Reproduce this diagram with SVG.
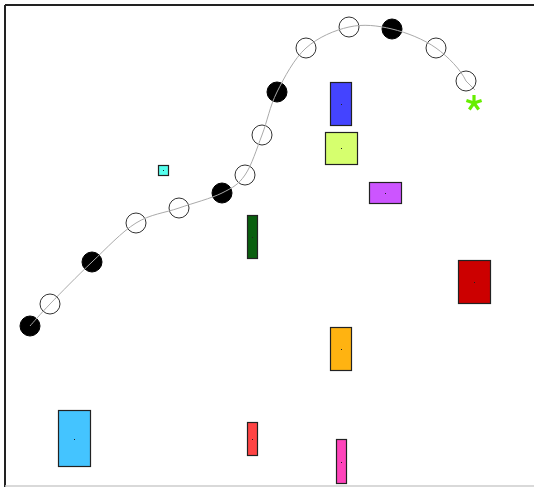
<svg xmlns="http://www.w3.org/2000/svg" width="534" height="487" viewBox="0 0 534 487">
<style>
.open{fill:none;stroke:#333;stroke-width:1}
.fill{fill:#000;stroke:#000;stroke-width:1}
.box{stroke:#222;stroke-width:1.2}
.dot{fill:#222}
.conn{fill:none;stroke:#aaa;stroke-width:1}
</style>
<rect x="0" y="0" width="534" height="487" fill="#fff"/>
<line x1="5" y1="5" x2="534" y2="5" stroke="#222" stroke-width="2"/>
<line x1="5" y1="5" x2="5" y2="487" stroke="#222" stroke-width="2"/>
<line x1="5" y1="486" x2="534" y2="486" stroke="#ccc" stroke-width="1.5"/>

<g id="n-cyan"><rect class="box" x="158.5" y="165.5" width="10" height="10" fill="#55ffee"/><rect class="dot" x="163" y="170" width="1" height="1"/></g>
<g id="n-green"><rect class="box" x="247.5" y="215.5" width="10" height="43" fill="#0a5f0f"/><rect class="dot" x="252" y="237" width="1" height="1"/></g>
<g id="n-blue"><rect class="box" x="330.5" y="82.5" width="21" height="43" fill="#4444ff"/><rect class="dot" x="341" y="104" width="1" height="1"/></g>
<g id="n-lime"><rect class="box" x="325.5" y="132.5" width="32" height="32" fill="#d6ff6e"/><rect class="dot" x="341" y="148" width="1" height="1" fill="#777"/></g>
<g id="n-purple"><rect class="box" x="369.5" y="182.5" width="32" height="21" fill="#cc55ff"/><rect class="dot" x="385" y="193" width="1" height="1"/></g>
<g id="n-darkred"><rect class="box" x="458.5" y="260.5" width="32" height="43" fill="#cc0000"/><rect class="dot" x="474" y="282" width="1" height="1"/></g>
<g id="n-orange"><rect class="box" x="330.5" y="327.5" width="21" height="43" fill="#ffb311"/><rect class="dot" x="341" y="349" width="1" height="1"/></g>
<g id="n-skyblue"><rect class="box" x="58.5" y="410.5" width="32" height="56" fill="#44c4ff"/><rect class="dot" x="74" y="439" width="1" height="1"/></g>
<g id="n-red"><rect class="box" x="247.5" y="422.5" width="10" height="33" fill="#ff4444"/><rect class="dot" x="252" y="439" width="1" height="1"/></g>
<g id="n-pink"><rect class="box" x="336.5" y="439.5" width="10" height="44" fill="#ff44bb"/><rect class="dot" x="341" y="462" width="1" height="1"/></g>

<g id="n-star" stroke="#66ee00" stroke-width="3.2" stroke-linecap="butt">
<line x1="474" y1="103" x2="474" y2="95"/>
<line x1="474" y1="103" x2="481.6" y2="100.5"/>
<line x1="474" y1="103" x2="478.7" y2="109.5"/>
<line x1="474" y1="103" x2="469.3" y2="109.5"/>
<line x1="474" y1="103" x2="466.4" y2="100.5"/>
</g>

<g id="path-nodes">
<circle class="fill" cx="30" cy="326" r="10"/>
<circle class="open" cx="50" cy="304" r="10"/>
<circle class="fill" cx="92" cy="262" r="10"/>
<circle class="open" cx="136" cy="223" r="10"/>
<circle class="open" cx="179" cy="208" r="10"/>
<circle class="fill" cx="222" cy="193" r="10"/>
<circle class="open" cx="245" cy="175" r="10"/>
<circle class="open" cx="262" cy="135" r="10"/>
<circle class="fill" cx="277" cy="92" r="10"/>
<circle class="open" cx="306" cy="48" r="10"/>
<circle class="open" cx="349" cy="27" r="10"/>
<circle class="fill" cx="392" cy="29" r="10"/>
<circle class="open" cx="436" cy="48" r="10"/>
<circle class="open" cx="466" cy="81" r="10"/>
</g>

<g id="connectors">
<path class="conn" d="M30,326 C33.3,322.3 39.7,314.7 50,304 C60.3,293.3 77.7,275.5 92,262 C106.3,248.5 121.5,232 136,223 C150.5,214 164.7,213 179,208 C193.3,203 211,198.5 222,193 C233,187.5 238.3,184.7 245,175 C251.7,165.3 256.7,148.8 262,135 C267.3,121.2 269.7,106.5 277,92 C284.3,77.5 294,58.8 306,48 C318,37.2 334.7,30.2 349,27 C363.3,23.8 377.5,25.5 392,29 C406.5,32.5 423.7,39.2 436,48 C448.3,56.8 461,70 466,81 L475,90"/>
</g>
</svg>
